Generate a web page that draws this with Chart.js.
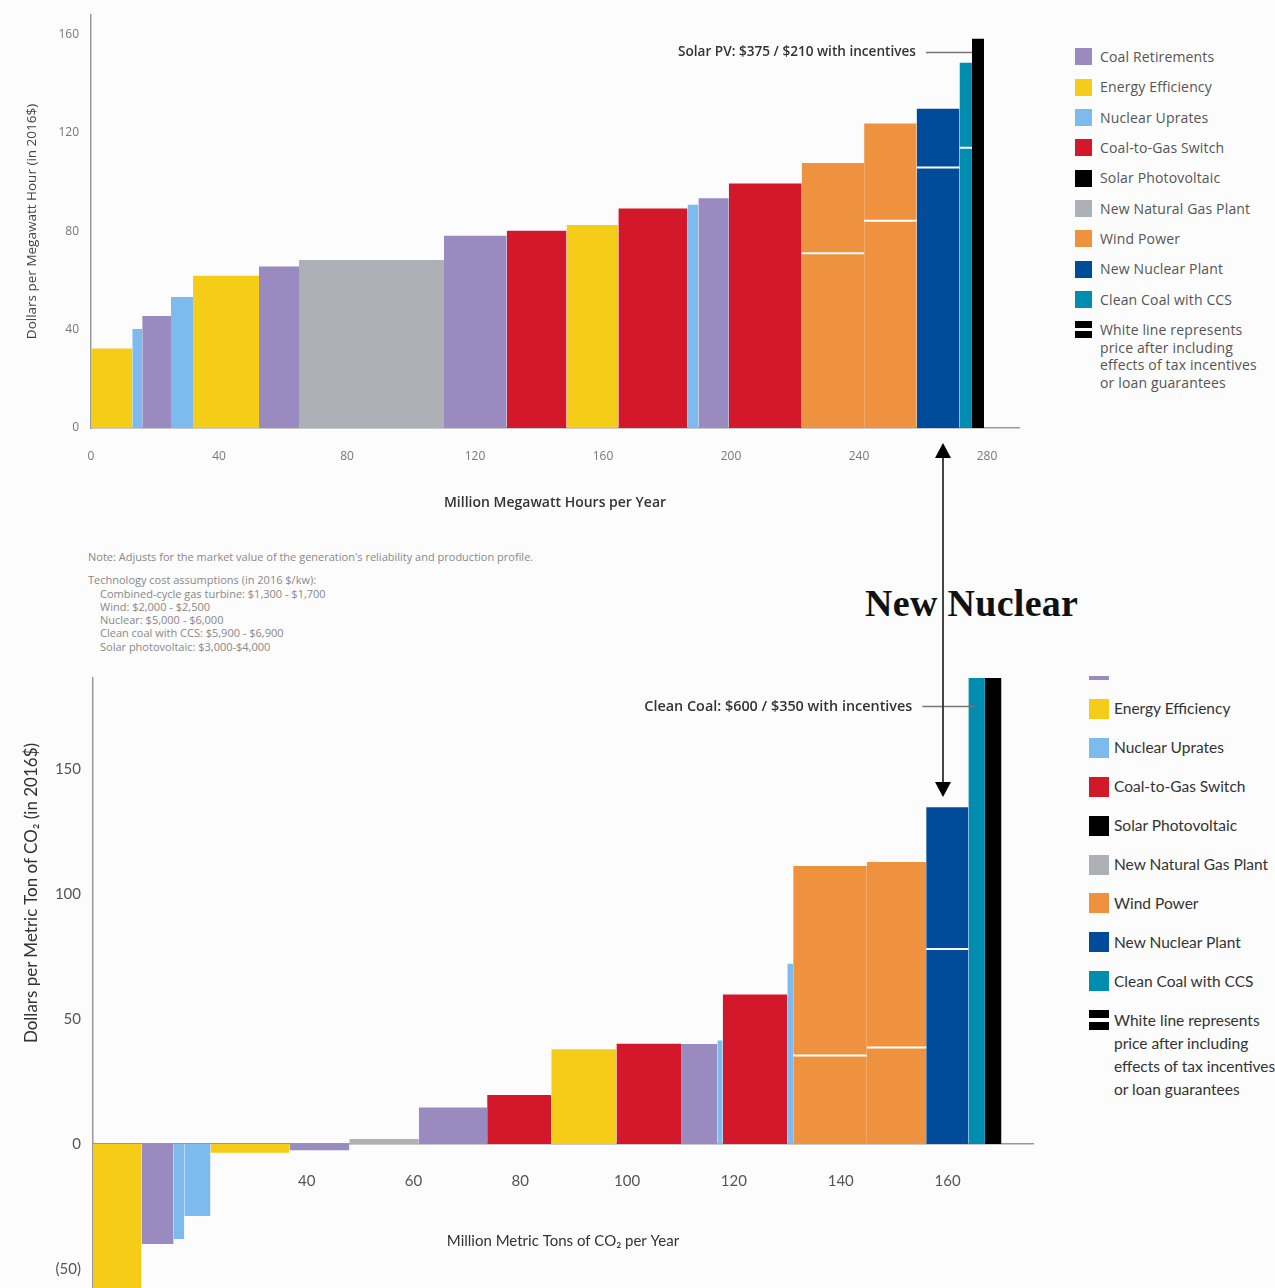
<!DOCTYPE html>
<html>
<head>
<meta charset="utf-8">
<script src="https://cdn.jsdelivr.net/npm/chart.js@4.4.1/dist/chart.umd.min.js"></script>
<style>
    body { margin: 0; background: #fcfcfc; font-family: 'Open Sans', sans-serif; }
    #page { position: relative; width: 1275px; height: 1288px; overflow: hidden; background: #fcfcfc; }
    #costChart { position: absolute; left: 0; top: 0; }
    #co2Panel { position: absolute; left: 0; top: 676px; width: 1275px; height: 612px; overflow: hidden; background: #fcfcfc; }
    #co2Chart { position: absolute; left: 0; top: 0; }
    .legend { position: absolute; }
    .legend .item { position: absolute; left: 0; white-space: nowrap; }
    .legend .swatch { position: absolute; left: 0; }
    .legend .label { position: absolute; }
    #legendTop { left: 1075px; top: 0; font-size: 14px; letter-spacing: 0.15px; color: #555; }
    #legendBottom { left: 1089px; top: 0; font-family: Lato, sans-serif; font-size: 15.5px; color: #333; }
    .stripe { background: linear-gradient(#000 0 40%, #fff 40% 58%, #000 58% 100%); }
    #notes { position: absolute; left: 88px; top: 550px; font-size: 11px; line-height: 13.3px; color: #888; }
    #notes .indent { padding-left: 12px; }
    #co2Title { position: absolute; left: 30px; top: 217px; width: 0; height: 0; }
    #co2Title span { position: absolute; transform: translate(-50%, -50%) rotate(-90deg); white-space: nowrap; font-family: Lato, sans-serif; font-size: 17px; color: #333; }
    #newNuclear { position: absolute; left: 865px; top: 581px; font-family: 'Liberation Serif', serif; font-weight: bold; font-size: 38px; color: #111; letter-spacing: 0.3px; }
    #arrow { position: absolute; left: 0; top: 0; pointer-events: none; }
</style>
</head>
<body>
<div id="page">
    <canvas id="costChart" width="1040" height="520"></canvas>
    <div class="legend" id="legendTop"></div>

    <div id="notes">
        <div>Note: Adjusts for the market value of the generation's reliability and production profile.</div>
        <div style="margin-top:10px">Technology cost assumptions (in 2016 $/kw):</div>
        <div class="indent">Combined-cycle gas turbine: $1,300 - $1,700</div>
        <div class="indent">Wind: $2,000 - $2,500</div>
        <div class="indent">Nuclear: $5,000 - $6,000</div>
        <div class="indent">Clean coal with CCS: $5,900 - $6,900</div>
        <div class="indent">Solar photovoltaic: $3,000-$4,000</div>
    </div>

    <div id="co2Panel">
        <canvas id="co2Chart" width="1060" height="612"></canvas>
        <div id="co2Title"><span>Dollars per Metric Ton of CO₂ (in 2016$)</span></div>
        <div class="legend" id="legendBottom"></div>
    </div>

    <div id="newNuclear">New Nuclear</div>
    <svg id="arrow" width="1275" height="1288">
        <line x1="943" y1="455" x2="943" y2="784" stroke="#444" stroke-width="2"/>
        <polygon points="943,443 935,458 951,458" fill="#000"/>
        <polygon points="943,797 935,782 951,782" fill="#000"/>
    </svg>
</div>

<script>
// technology names
const CR = 'Coal Retirements';
const EE = 'Energy Efficiency';
const NU = 'Nuclear Uprates';
const CG = 'Coal-to-Gas Switch';
const PV = 'Solar Photovoltaic';
const NG = 'New Natural Gas Plant';
const WP = 'Wind Power';
const NN = 'New Nuclear Plant';
const CC = 'Clean Coal with CCS';

const legendOrder = [CR, EE, NU, CG, PV, NG, WP, NN, CC];
const whiteLineNote = ['White line represents', 'price after including', 'effects of tax incentives', 'or loan guarantees'];

// top chart: cost per MWh vs million MWh per year
const mwhCategories = [EE, NU, CR, NU, EE, CR, NG, CR, CG, EE, CG, NU, CR, CG, WP, WP, NN, CC, PV];
const mwhAmounts = [12.9, 3.1, 9.0, 6.9, 20.6, 12.5, 45.3, 19.6, 18.7, 16.2, 21.6, 3.4, 9.5, 22.8, 19.5, 16.4, 13.4, 3.9, 3.8];
const mwhCost = [32.3, 40.3, 45.6, 53.3, 61.9, 65.7, 68.3, 78.2, 80.2, 82.6, 89.3, 90.8, 93.5, 99.5, 107.8, 123.9, 129.9, 148.6, 158.3];
const mwhIncentive = [null, null, null, null, null, null, null, null, null, null, null, null, null, null, 71.1, 84.3, 106, 114, 210];
const mwhXTicks = [0, 40, 80, 120, 160, 200, 240, 280];
const mwhYTicks = [0, 40, 80, 120, 160];

// bottom chart: cost per ton CO2 vs million tons CO2 per year
const co2Categories = [EE, CR, NU, NU, EE, CR, NG, CR, CG, EE, CG, CR, NU, CG, NU, WP, WP, NN, CC, PV];
const co2Amounts = [9.1, 6.0, 2.0, 4.9, 14.8, 11.2, 13.0, 12.8, 12.0, 12.2, 12.1, 6.8, 1.0, 12.1, 1.1, 13.8, 11.1, 7.9, 3.1, 3.1];
const co2Cost = [-65, -40, -38, -28.8, -3.5, -2.5, 2, 14.6, 19.6, 37.9, 40.1, 40, 41.4, 59.8, 72.1, 111.2, 112.8, 134.7, 600, 700];
const co2Incentive = [null, null, null, null, null, null, null, null, null, null, null, null, null, null, null, 35.4, 38.6, 78, 350, null];
const co2XTicks = [40, 60, 80, 100, 120, 140, 160];
const co2YTicks = [-50, 0, 50, 100, 150];

const techColors = {
    [CR]: '#998bc0',
    [EE]: '#f5cd18',
    [NU]: '#7dbbee',
    [CG]: '#d3182c',
    [PV]: '#000000',
    [NG]: '#adb0b4',
    [WP]: '#ee9240',
    [NN]: '#004c9a',
    [CC]: '#008db0'
};

// each bar is a flat two point line filled down to zero, so widths follow the x scale
function buildDatasets(categories, amounts, values, incentives) {
    const sets = [];
    let start = 0;
    categories.forEach((cat, i) => {
        const end = start + amounts[i];
        sets.push({
            data: [{ x: start, y: values[i] }, { x: end, y: values[i] }],
            backgroundColor: techColors[cat],
            borderColor: techColors[cat],
            borderWidth: 0,
            fill: 'origin',
            pointRadius: 0,
            pointHoverRadius: 0,
            tension: 0,
            order: 1
        });
        if (incentives[i] !== null) {
            sets.push({
                data: [{ x: start, y: incentives[i] }, { x: end, y: incentives[i] }],
                borderColor: '#ffffff',
                borderWidth: 2,
                fill: false,
                pointRadius: 0,
                pointHoverRadius: 0,
                order: -1
            });
        }
        start = end;
    });
    return sets;
}

// label with a short leader line pointing at a bar
const calloutPlugin = {
    id: 'callout',
    afterDatasetsDraw(chart, args, opts) {
        const { ctx, scales } = chart;
        const px = scales.x.getPixelForValue(opts.x);
        const py = Math.round(scales.y.getPixelForValue(opts.y)) + 0.5;
        ctx.save();
        ctx.strokeStyle = '#777';
        ctx.lineWidth = 1.5;
        ctx.beginPath();
        ctx.moveTo(px - opts.length, py);
        ctx.lineTo(px, py);
        ctx.stroke();
        ctx.fillStyle = '#333';
        ctx.font = opts.font;
        ctx.textAlign = 'right';
        ctx.textBaseline = 'middle';
        ctx.fillText(opts.text, px - opts.length - 10, py);
        ctx.restore();
    }
};

function fixTicks(list) {
    return scale => { scale.ticks = list.map(v => ({ value: v })); };
}

const topChart = new Chart(document.getElementById('costChart'), {
    type: 'line',
    data: { datasets: buildDatasets(mwhCategories, mwhAmounts, mwhCost, mwhIncentive) },
    options: {
        responsive: false,
        animation: false,
        events: [],
        layout: { padding: { top: 15, right: 21, bottom: 0, left: 0 } },
        plugins: {
            legend: { display: false },
            tooltip: { enabled: false },
            callout: { x: 275.3, y: 153, length: 46, text: 'Solar PV: $375 / $210 with incentives', font: '600 13.6px "Open Sans"' }
        },
        scales: {
            x: {
                type: 'linear',
                min: 0,
                max: 290,
                afterBuildTicks: fixTicks(mwhXTicks),
                afterFit: s => { s.height = 92; s.paddingLeft = 0; s.paddingRight = 0; },
                grid: { display: false, drawTicks: false },
                border: { color: '#9a9a9a', width: 1.5 },
                ticks: { padding: 21, color: '#777', autoSkip: false, maxRotation: 0, font: { family: 'Open Sans', size: 12 } },
                title: { display: true, text: 'Million Megawatt Hours per Year', color: '#333', font: { family: 'Open Sans', size: 14, weight: '600' }, padding: { top: 0, bottom: 9 } }
            },
            y: {
                min: 0,
                max: 168,
                afterBuildTicks: fixTicks(mwhYTicks),
                afterFit: s => { s.width = 91; s.paddingTop = 0; s.paddingBottom = 0; },
                grid: { display: false, drawTicks: false },
                border: { color: '#9a9a9a', width: 1.5 },
                ticks: { padding: 12, color: '#777', font: { family: 'Open Sans', size: 12 } },
                title: { display: true, text: 'Dollars per Megawatt Hour (in 2016$)', color: '#444', font: { family: 'Open Sans', size: 13.5 }, padding: { top: 24, bottom: 0 } }
            }
        }
    },
    plugins: [calloutPlugin]
});

const bottomChart = new Chart(document.getElementById('co2Chart'), {
    type: 'line',
    data: { datasets: buildDatasets(co2Categories, co2Amounts, co2Cost, co2Incentive) },
    options: {
        responsive: false,
        animation: false,
        events: [],
        layout: { padding: { top: 2, right: 27, bottom: 0, left: 0 } },
        plugins: {
            legend: { display: false },
            tooltip: { enabled: false },
            callout: { x: 165.2, y: 175.2, length: 53, text: 'Clean Coal: $600 / $350 with incentives', font: '600 14.4px "Open Sans"' }
        },
        scales: {
            x: {
                type: 'linear',
                position: { y: 0 },
                min: 0,
                max: 176,
                afterBuildTicks: fixTicks(co2XTicks),
                afterFit: s => { s.height = 110; s.paddingLeft = 0; s.paddingRight = 0; },
                grid: { display: false, drawTicks: false },
                border: { color: '#9a9a9a', width: 1.5 },
                ticks: { padding: 28, color: '#555', autoSkip: false, maxRotation: 0, font: { family: 'Lato', size: 15 } },
                title: { display: true, text: 'Million Metric Tons of CO₂ per Year', color: '#333', font: { family: 'Lato', size: 15 }, padding: { top: 0, bottom: 4 } }
            },
            y: {
                min: -57.6,
                max: 186.4,
                afterBuildTicks: fixTicks(co2YTicks),
                afterFit: s => { s.width = 93; s.paddingTop = 0; s.paddingBottom = 0; },
                grid: { display: false, drawTicks: false },
                border: { color: '#9a9a9a', width: 1.5 },
                ticks: {
                    padding: 12,
                    color: '#555',
                    font: { family: 'Lato', size: 15 },
                    callback: v => v < 0 ? '(' + (-v) + ')' : v
                }
            }
        }
    },
    plugins: [calloutPlugin]
});

// html legends
function buildLegend(el, firstY, step, lineHeight, size, gap) {
    const items = legendOrder.map(name => ({ swatch: 'background:' + techColors[name], lines: [name] }));
    items.push({ swatch: '', stripe: true, lines: whiteLineNote });
    items.forEach((item, i) => {
        const centerY = firstY + i * step;
        const div = document.createElement('div');
        div.className = 'item';
        div.style.top = (centerY - lineHeight / 2) + 'px';
        const sw = document.createElement('div');
        sw.className = 'swatch' + (item.stripe ? ' stripe' : '');
        sw.style.cssText += item.swatch;
        sw.style.width = size + 'px';
        sw.style.height = size + 'px';
        sw.style.top = ((lineHeight - size) / 2) + 'px';
        const label = document.createElement('div');
        label.className = 'label';
        label.style.left = (size + gap) + 'px';
        label.style.lineHeight = lineHeight + 'px';
        label.innerHTML = item.lines.join('<br>');
        // row cut off by the panel edge: only its swatch shows
        if (centerY < 0) label.style.visibility = 'hidden';
        div.appendChild(sw);
        div.appendChild(label);
        el.appendChild(div);
    });
}

buildLegend(document.getElementById('legendTop'), 57, 30.3, 17.7, 17, 8);
buildLegend(document.getElementById('legendBottom'), -6, 38.9, 23, 20, 5);
</script>
</body>
</html>
